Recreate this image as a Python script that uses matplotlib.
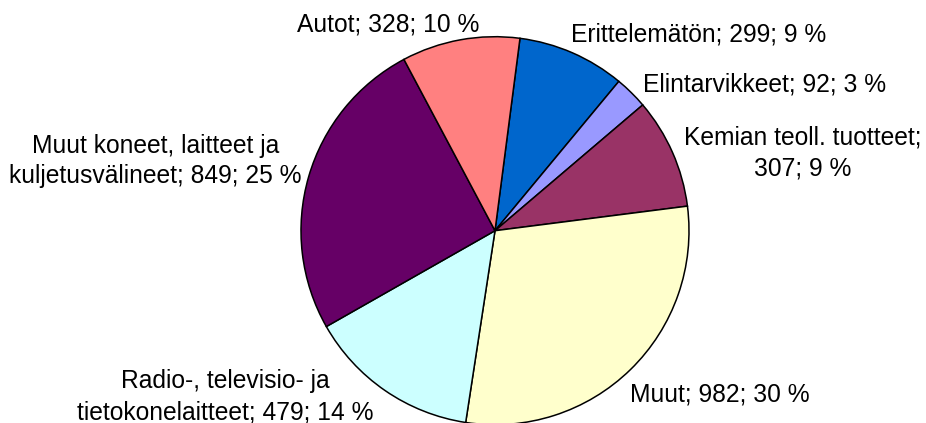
import matplotlib
matplotlib.use("Agg")
import matplotlib.pyplot as plt

# Data (clockwise order starting from the slice right of 12 o'clock)
categories = ["Erittelemätön", "Elintarvikkeet", "Kemian teoll. tuotteet", "Muut",
              "Radio-, televisio- ja\ntietokonelaitteet",
              "Muut koneet, laitteet ja\nkuljetusvälineet", "Autot"]
values = [299, 92, 307, 982, 479, 849, 328]
percents = [9, 3, 9, 30, 14, 25, 10]
break_after_name = [False, False, True, False, False, False, False]
colors = ["#0066CC", "#9999FF", "#993366", "#FFFFCC", "#CCFFFF", "#660066", "#FF8080"]

# label anchor positions (last-line baseline centre, in pie-radius units)
label_pos = [(1.050, 0.974), (1.392, 0.720), (1.587, 0.287), (1.157, -0.881),
             (-1.392, -0.972), (-1.750, 0.244), (-0.552, 1.026)]

W, H, DPI = 926, 423, 100
fig = plt.figure(figsize=(W / DPI, H / DPI), dpi=DPI)
ax = fig.add_axes([0, 0, 1, 1])

cx, cy, R = 495.0, 230.7, 194.0
ax.pie(values, colors=colors, startangle=82.6, counterclock=False, radius=1.0,
       wedgeprops=dict(edgecolor="black", linewidth=1.1))

ax.set_xlim(-cx / R, (W - cx) / R)
ax.set_ylim((cy - H) / R, cy / R)
ax.set_aspect("equal")
ax.axis("off")

for name, v, p, brk, (x, y) in zip(categories, values, percents, break_after_name, label_pos):
    sep = ";\n" if brk else "; "
    txt = f"{name}{sep}{v}; {p} %"
    ax.text(x, y, txt, ha="center", va="baseline", multialignment="center",
            fontsize=17.7, family="Liberation Sans", color="black", linespacing=1.36)

fig.savefig("out.png", dpi=DPI)
